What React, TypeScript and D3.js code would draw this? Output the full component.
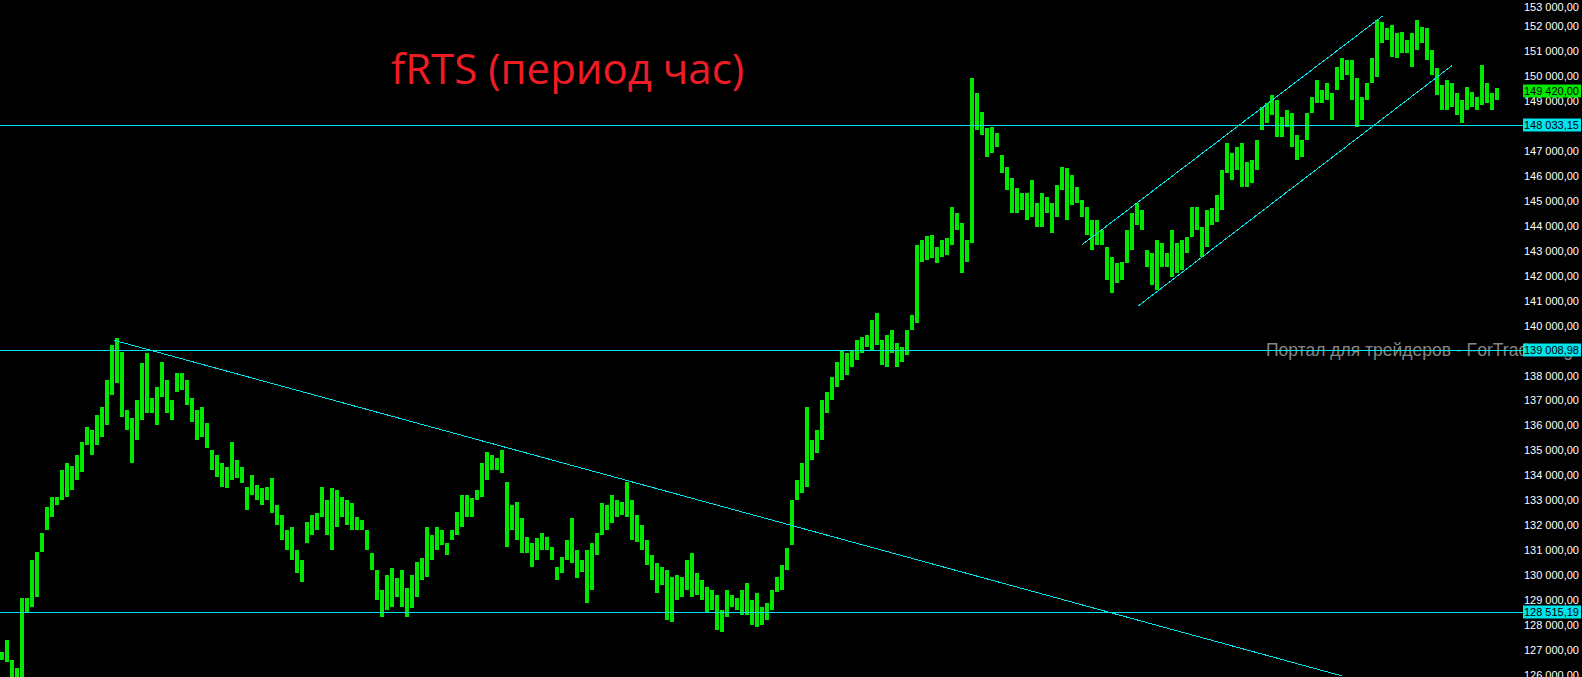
import React from "react";
import * as d3 from "d3";

// Hourly bars of fRTS, prices in thousands (high / low per bar)
const highs = [
  126.92, 127.40, 126.60, 126.28, 129.08, 129.08, 130.61, 130.93, 131.69, 132.73,
  133.13, 133.13, 134.21, 134.49, 134.37, 134.81, 135.33, 135.94, 135.82, 136.42,
  136.74, 137.82, 139.22, 139.50, 138.94, 136.62, 136.30, 137.02, 138.50, 138.90,
  137.10, 137.54, 138.54, 137.82, 137.02, 138.10, 138.10, 137.82, 137.10, 136.62,
  136.74, 136.10, 135.01, 134.81, 134.49, 134.33, 135.33, 134.61, 134.33, 133.53,
  134.01, 133.61, 133.49, 133.53, 133.89, 132.81, 132.41, 131.81, 131.93, 131.01,
  130.61, 132.13, 132.41, 132.49, 133.53, 133.01, 133.49, 133.41, 133.13, 133.01,
  132.89, 132.33, 132.21, 131.81, 130.89, 130.20, 129.40, 130.00, 130.28, 129.88,
  130.20, 129.48, 130.00, 130.53, 130.69, 131.93, 131.61, 131.93, 131.81, 131.29,
  131.81, 132.53, 133.21, 133.21, 133.09, 133.41, 134.49, 134.93, 134.81, 134.69,
  135.01, 133.73, 132.81, 132.93, 132.29, 131.53, 131.29, 131.49, 131.69, 131.53,
  131.13, 130.32, 130.73, 131.41, 132.29, 131.01, 130.61, 131.01, 131.29, 131.69,
  132.89, 132.81, 133.21, 133.01, 132.93, 133.73, 133.01, 132.41, 132.01, 131.41,
  130.81, 130.49, 130.32, 130.20, 129.92, 130.00, 129.92, 130.61, 130.89, 130.08,
  129.80, 129.52, 129.40, 129.20, 128.60, 129.40, 129.20, 129.08, 129.40, 129.68,
  129.00, 129.28, 128.72, 128.88, 129.40, 129.92, 130.40, 131.09, 133.01, 133.81,
  134.49, 136.74, 135.41, 135.82, 137.02, 137.34, 137.94, 138.54, 139.02, 138.90,
  139.02, 139.42, 139.54, 139.62, 140.22, 140.50, 139.42, 139.62, 139.82, 139.30,
  139.14, 139.82, 140.42, 143.23, 143.43, 143.59, 143.63, 143.15, 143.43, 143.51,
  144.75, 144.51, 144.11, 143.43, 149.92, 149.32, 148.56, 147.92, 147.96, 147.72,
  146.84, 146.36, 145.92, 145.51, 145.31, 145.31, 145.84, 144.91, 145.31, 145.15,
  144.91, 145.64, 146.36, 146.32, 146.04, 145.56, 145.03, 144.75, 144.23, 144.23,
  143.83, 143.15, 142.75, 142.51, 142.55, 143.83, 144.51, 144.91, 144.63, 143.03,
  142.91, 143.43, 143.31, 142.91, 143.83, 143.31, 143.43, 143.55, 144.75, 144.75,
  143.95, 144.63, 144.71, 145.23, 146.24, 147.32, 146.92, 147.16, 147.32, 146.56,
  146.64, 147.44, 148.76, 148.92, 149.24, 149.04, 148.36, 148.64, 148.52, 147.64,
  147.44, 148.52, 149.16, 149.84, 149.44, 149.72, 149.32, 150.36, 150.73, 150.65,
  150.65, 149.92, 149.16, 149.72, 150.73, 152.25, 152.17, 151.93, 152.05, 151.73,
  151.77, 151.45, 151.73, 152.25, 151.97, 151.93, 151.05, 150.32, 149.64, 149.84,
  149.72, 149.32, 149.04, 149.56, 149.36, 149.16, 150.44, 149.72, 149.32, 149.52,
];

const lows = [
  126.60, 126.52, 125.92, 125.92, 125.92, 128.48, 128.72, 129.12, 130.93, 131.81,
  132.33, 132.81, 133.01, 133.13, 133.41, 133.81, 134.13, 135.21, 134.81, 135.21,
  135.53, 136.02, 137.22, 137.70, 136.34, 135.82, 134.49, 135.41, 136.22, 136.50,
  136.50, 136.02, 137.14, 136.50, 136.22, 137.34, 137.42, 136.82, 136.14, 135.41,
  135.53, 135.09, 134.21, 133.93, 133.53, 133.49, 133.81, 133.89, 133.69, 132.61,
  133.21, 133.01, 132.81, 133.01, 132.49, 132.01, 131.41, 131.01, 130.61, 130.08,
  129.72, 131.29, 131.61, 131.81, 132.33, 131.61, 131.01, 131.93, 132.33, 132.01,
  131.81, 131.81, 131.81, 131.01, 130.20, 129.00, 128.32, 128.60, 128.72, 129.12,
  128.72, 128.32, 128.68, 129.12, 129.80, 129.92, 130.61, 131.01, 131.21, 130.81,
  131.41, 131.61, 131.93, 132.33, 132.33, 133.01, 133.13, 133.81, 134.21, 134.21,
  134.09, 131.13, 131.81, 131.41, 130.89, 130.89, 130.32, 130.61, 131.01, 131.01,
  130.61, 129.80, 130.08, 130.61, 130.49, 129.88, 130.12, 128.88, 129.40, 130.81,
  131.61, 131.81, 132.09, 132.33, 132.41, 132.33, 131.41, 131.33, 131.01, 130.40,
  129.80, 129.28, 129.60, 128.20, 128.12, 129.00, 129.12, 129.40, 129.12, 129.20,
  129.00, 128.48, 128.60, 127.80, 127.72, 128.32, 128.72, 128.60, 128.40, 128.40,
  128.00, 127.92, 128.00, 128.20, 128.60, 129.32, 129.40, 130.20, 131.21, 133.01,
  133.29, 133.53, 134.61, 134.89, 135.41, 136.50, 137.02, 137.54, 137.82, 138.02,
  138.34, 138.62, 138.90, 139.14, 139.02, 139.22, 138.42, 138.34, 138.90, 138.34,
  138.54, 138.82, 139.82, 140.10, 142.55, 142.63, 142.71, 142.51, 142.75, 142.83,
  143.23, 143.83, 142.11, 142.55, 143.31, 147.84, 147.64, 146.76, 146.92, 147.16,
  146.12, 145.43, 144.51, 144.51, 144.63, 144.23, 144.35, 143.95, 143.95, 144.51,
  143.71, 144.35, 145.43, 144.23, 144.83, 144.91, 144.35, 143.63, 143.03, 143.23,
  143.23, 141.83, 141.31, 141.71, 141.83, 142.51, 143.03, 144.03, 143.83, 142.35,
  141.63, 141.43, 142.35, 142.35, 141.95, 142.11, 142.23, 142.91, 143.55, 143.83,
  142.75, 143.15, 144.03, 144.15, 144.63, 146.12, 145.84, 146.24, 145.56, 145.56,
  145.72, 146.24, 147.84, 148.12, 148.44, 147.56, 147.56, 147.96, 147.16, 146.64,
  146.76, 147.44, 148.52, 148.92, 148.92, 149.04, 148.24, 149.44, 149.84, 150.04,
  149.04, 147.96, 148.24, 149.04, 149.72, 149.96, 151.33, 151.45, 150.77, 150.73,
  150.93, 150.93, 150.36, 151.05, 151.33, 150.65, 150.04, 149.24, 148.64, 148.64,
  148.76, 148.44, 148.12, 148.64, 148.76, 148.64, 148.84, 148.92, 148.64, 149.04,
];

// horizontal levels (full price)
const levels = [148033.15, 139008.98, 128515.19];
const lastPrice = 149420;

// trend lines: [barIndex, price(thousands)] start and end
const triangleLine = [[22.36, 139.41], [267.9, 125.96]];
const channelUpper = [[215.84, 143.23], [276.04, 152.41]];
const channelLower = [[227.16, 140.79], [289.96, 150.43]];

const yTicks = d3.range(126000, 153001, 1000);

const title = "fRTS (период час)";
const watermark = "Портал для трейдеров - ForTrader.org";

const W = 1582;
const H = 677;
const PLOT_R = 1523;

const locale = d3.formatLocale({
  decimal: ",",
  thousands: " ",
  grouping: [3],
  currency: ["", ""],
});
const fmt = locale.format(",.2f");

export default function App() {
  const x = d3.scaleLinear().domain([0, highs.length]).range([0, 1500]);
  const y = d3.scaleLinear().domain([125.917, 153.05]).range([H, 0]);
  const yP = (p: number) => y(p / 1000);

  const cyan = "#00e4ec";
  const green = "#00e800";

  const seg = (l: number[][], key: string) => (
    <line
      key={key}
      x1={x(l[0][0] + 0.5)}
      y1={y(l[0][1])}
      x2={x(l[1][0] + 0.5)}
      y2={y(l[1][1])}
      stroke={cyan}
      strokeWidth={1}
      shapeRendering="crispEdges"
    />
  );

  const box = (p: number, fill: string, key: string) => {
    const cy = Math.round(yP(p));
    return (
      <g key={key}>
        <rect x={1523} y={cy - 6.5} width={58} height={13} fill={fill} />
        <text
          x={1579}
          y={cy + 4}
          textAnchor="end"
          fontFamily="'Liberation Sans', Arial, sans-serif"
          fontSize={11}
          fill="#000"
        >
          {fmt(p)}
        </text>
      </g>
    );
  };

  return (
    <svg
      width={W}
      height={H}
      style={{ position: "absolute", left: 0, top: 0, display: "block", background: "#000" }}
    >
      <defs>
        <clipPath id="plotClip">
          <rect x={0} y={0} width={PLOT_R} height={H} />
        </clipPath>
      </defs>
      <rect x={0} y={0} width={W} height={H} fill="#000" />

      <text
        x={1266}
        y={356}
        fontFamily="'Liberation Sans', Arial, sans-serif"
        fontSize={17.5}
        fill="#858585"
      >
        {watermark}
      </text>

      <g>
        {highs.map((h, i) => {
          const top = Math.round(y(h));
          const bot = Math.round(y(lows[i]));
          return (
            <rect
              key={i}
              x={Math.round(x(i))}
              y={top}
              width={4}
              height={Math.max(1, bot - top)}
              fill={green}
            />
          );
        })}
      </g>

      <g clipPath="url(#plotClip)">
        {levels.map((p, i) => {
          const yy = Math.round(yP(p)) + 0.5;
          return (
            <line key={i} x1={0} x2={PLOT_R} y1={yy} y2={yy} stroke={cyan} strokeWidth={1} />
          );
        })}
        {seg(triangleLine, "tri")}
        {seg(channelUpper, "cu")}
        {seg(channelLower, "cl")}
      </g>

      <text
        x={391}
        y={84}
        fontFamily="'Open Sans', 'Noto Sans', sans-serif"
        fontSize={42}
        fill="#ee1c25"
      >
        {title}
      </text>

      <g fontFamily="'Liberation Sans', Arial, sans-serif" fontSize={11} fill="#fff">
        {yTicks.map((t) => {
          const yy = Math.max(7, yP(t));
          return (
            <text key={t} x={1579} y={yy + 4} textAnchor="end">
              {fmt(t)}
            </text>
          );
        })}
      </g>

      {levels.map((p, i) => box(p, cyan, "lv" + i))}
      {box(lastPrice, "#00e800", "last")}
    </svg>
  );
}
